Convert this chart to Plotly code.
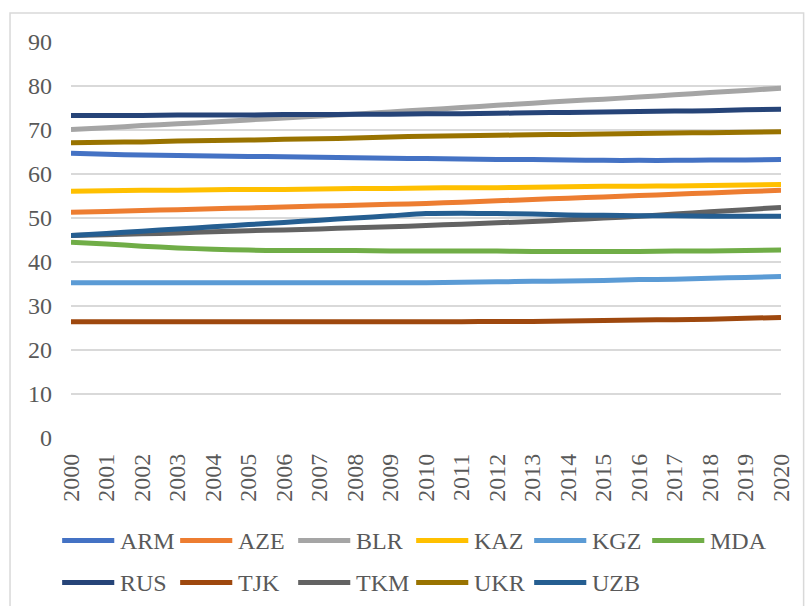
import plotly.graph_objects as go

# Urban population share (%) by country, 2000-2020
years = [str(y) for y in range(2000, 2021)]

countries = ["ARM", "AZE", "BLR", "KAZ", "KGZ", "MDA", "RUS", "TJK", "TKM", "UKR", "UZB"]

arm = [64.7, 64.5, 64.3, 64.2, 64.1, 64.0, 63.9, 63.8, 63.7, 63.6, 63.5,
       63.4, 63.3, 63.3, 63.2, 63.1, 63.1, 63.1, 63.2, 63.2, 63.3]
aze = [51.3, 51.5, 51.7, 51.9, 52.1, 52.3, 52.5, 52.7, 52.9, 53.1, 53.3,
       53.6, 53.9, 54.2, 54.5, 54.8, 55.1, 55.4, 55.7, 56.0, 56.3]
blr = [70.1, 70.5, 71.0, 71.4, 71.8, 72.3, 72.7, 73.2, 73.6, 74.1, 74.6,
       75.1, 75.6, 76.1, 76.6, 77.0, 77.5, 78.0, 78.5, 79.0, 79.5]
kaz = [56.1, 56.2, 56.3, 56.3, 56.4, 56.5, 56.5, 56.6, 56.7, 56.7, 56.8,
       56.9, 56.9, 57.0, 57.1, 57.2, 57.2, 57.3, 57.4, 57.5, 57.6]
kgz = [35.3, 35.3, 35.3, 35.3, 35.3, 35.3, 35.3, 35.3, 35.3, 35.3, 35.3,
       35.4, 35.5, 35.6, 35.7, 35.8, 36.0, 36.1, 36.3, 36.5, 36.7]
mda = [44.5, 44.1, 43.6, 43.2, 42.9, 42.7, 42.6, 42.6, 42.6, 42.5, 42.5,
       42.5, 42.5, 42.4, 42.4, 42.4, 42.4, 42.5, 42.5, 42.6, 42.7]
rus = [73.3, 73.3, 73.3, 73.4, 73.4, 73.4, 73.5, 73.5, 73.6, 73.6, 73.7,
       73.7, 73.8, 73.9, 74.0, 74.1, 74.2, 74.3, 74.4, 74.6, 74.7]
tjk = [26.4, 26.4, 26.4, 26.4, 26.4, 26.4, 26.4, 26.4, 26.4, 26.4, 26.4,
       26.4, 26.5, 26.5, 26.6, 26.7, 26.8, 26.9, 27.0, 27.2, 27.4]
tkm = [46.0, 46.2, 46.4, 46.6, 46.9, 47.1, 47.3, 47.5, 47.8, 48.0, 48.3,
       48.6, 48.9, 49.2, 49.6, 50.0, 50.4, 50.9, 51.4, 51.9, 52.4]
ukr = [67.1, 67.2, 67.3, 67.5, 67.6, 67.7, 67.9, 68.0, 68.2, 68.4, 68.6,
       68.7, 68.8, 68.9, 69.0, 69.1, 69.2, 69.3, 69.4, 69.5, 69.6]
uzb = [46.0, 46.5, 47.0, 47.5, 48.0, 48.5, 49.0, 49.5, 50.0, 50.5, 51.0,
       51.1, 51.0, 50.9, 50.7, 50.6, 50.5, 50.5, 50.4, 50.4, 50.4]

series = [arm, aze, blr, kaz, kgz, mda, rus, tjk, tkm, ukr, uzb]

colors = ["#4472C4", "#ED7D31", "#A5A5A5", "#FFC000", "#5B9BD5", "#70AD47",
          "#264478", "#9E480E", "#636363", "#997300", "#255E91"]

y_ticks = list(range(0, 100, 10))

FONT = "Liberation Serif, Times New Roman, serif"
TEXT = "#595959"
GRID = "#D9D9D9"
FS = 24

W, H = 806, 606
ML, MR, MT, MB = 71, 13, 42, 168
PW, PH = W - ML - MR, H - MT - MB


def px_x(px):
    return (px - ML) / PW


def px_y(py):
    return (H - MB - py) / PH


fig = go.Figure()
for name, vals, col in zip(countries, series, colors):
    fig.add_trace(go.Scatter(
        x=years, y=vals, name=name, mode="lines",
        line=dict(color=col, width=5, shape="spline", smoothing=0.8),
        showlegend=False,
    ))

# Legend drawn as line samples plus labels in two rows of six
shapes = []
annotations = []
for i, (name, col) in enumerate(zip(countries, colors)):
    row, colnum = divmod(i, 6)
    x0 = 62 + colnum * 120
    yc = 540.5 + row * 42
    shapes.append(dict(
        type="line", xref="paper", yref="paper",
        x0=px_x(x0), x1=px_x(x0 + 53), y0=px_y(yc), y1=px_y(yc),
        line=dict(color=col, width=5),
    ))
    annotations.append(dict(
        text=name, xref="paper", yref="paper",
        x=px_x(x0 + 57), y=px_y(yc), xanchor="left", yanchor="middle",
        showarrow=False, font=dict(family=FONT, size=FS, color=TEXT),
    ))

# Chart area border
shapes.append(dict(
    type="rect", xref="paper", yref="paper",
    x0=px_x(9), x1=px_x(W + 10), y0=px_y(13), y1=px_y(H + 10),
    line=dict(color=GRID, width=1.5), fillcolor="rgba(0,0,0,0)", layer="below",
))

fig.update_layout(
    width=W, height=H,
    margin=dict(l=ML, r=MR, t=MT, b=MB, pad=0),
    paper_bgcolor="white", plot_bgcolor="white",
    font=dict(family=FONT, size=FS, color=TEXT),
    shapes=shapes, annotations=annotations,
    showlegend=False,
    xaxis=dict(
        type="category", tickangle=-90, showgrid=False, zeroline=False,
        showline=False, ticks="", tickfont=dict(size=FS, color=TEXT),
        ticklabelstandoff=10,
    ),
    yaxis=dict(
        range=[0, 90], tickvals=y_ticks, showgrid=True, gridcolor=GRID,
        gridwidth=1.5, zeroline=False, showline=False, ticks="",
        tickfont=dict(size=FS, color=TEXT), ticklabelstandoff=18,
    ),
)

fig.write_html("out.html")
